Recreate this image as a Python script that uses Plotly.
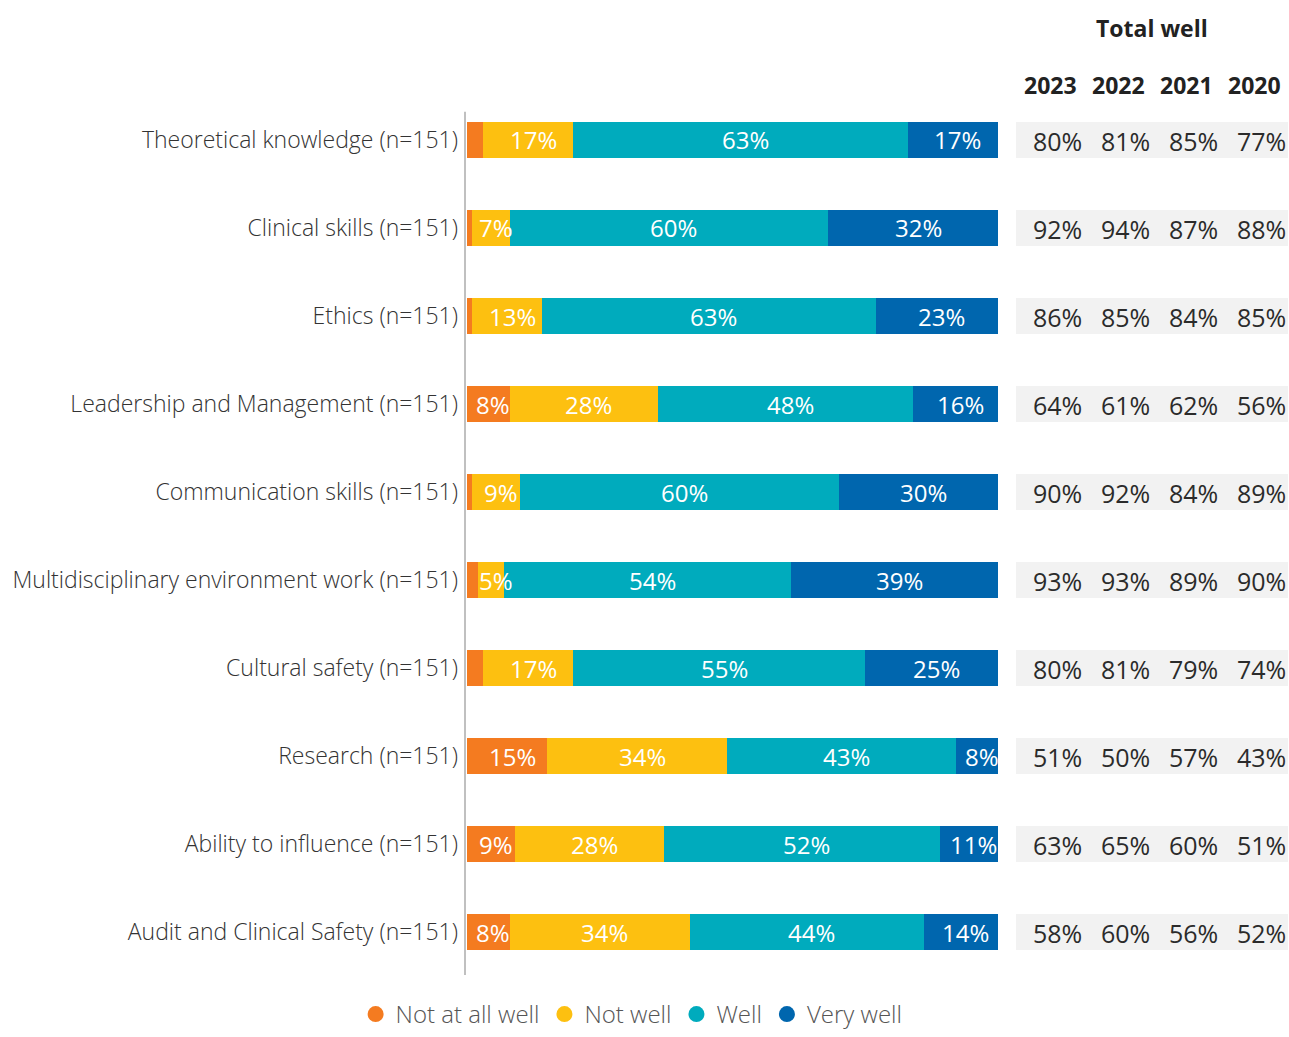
import plotly.graph_objects as go

# ---- data ----
categories = [
    "Theoretical knowledge (n=151)",
    "Clinical skills (n=151)",
    "Ethics (n=151)",
    "Leadership and Management (n=151)",
    "Communication skills (n=151)",
    "Multidisciplinary environment work (n=151)",
    "Cultural safety (n=151)",
    "Research (n=151)",
    "Ability to influence (n=151)",
    "Audit and Clinical Safety (n=151)",
]
not_at_all_well = [3, 1, 1, 8, 1, 2, 3, 15, 9, 8]
not_well = [17, 7, 13, 28, 9, 5, 17, 34, 28, 34]
well = [63, 60, 63, 48, 60, 54, 55, 43, 52, 44]
very_well = [17, 32, 23, 16, 30, 39, 25, 8, 11, 14]

years = ["2023", "2022", "2021", "2020"]
total_well_2023 = [80, 92, 86, 64, 90, 93, 80, 51, 63, 58]
total_well_2022 = [81, 94, 85, 61, 92, 93, 81, 50, 65, 60]
total_well_2021 = [85, 87, 84, 62, 84, 89, 79, 57, 60, 56]
total_well_2020 = [77, 88, 85, 56, 89, 90, 74, 43, 51, 52]

series = [
    ("Not at all well", not_at_all_well, "#F47B20"),
    ("Not well", not_well, "#FDC010"),
    ("Well", well, "#00ABBD"),
    ("Very well", very_well, "#0066AE"),
]
totals = [total_well_2023, total_well_2022, total_well_2021, total_well_2020]

FONT = "Open Sans"
W, H = 1289, 1037
BAR_W = 0.4
MIN_LABEL = 5  # segments smaller than this stay unlabelled

fig = go.Figure()
annotations = []

# stacked bars + centred value labels
cum = [0] * len(categories)
for name, vals, color in series:
    fig.add_trace(go.Bar(
        y=categories, x=vals, orientation="h", name=name,
        marker=dict(color=color, line=dict(width=0)),
        width=BAR_W, showlegend=False, hoverinfo="x+name",
        xaxis="x", yaxis="y",
    ))
    for i, v in enumerate(vals):
        if v >= MIN_LABEL:
            annotations.append(dict(
                x=cum[i] + v / 2, y=categories[i], xref="x", yref="y",
                text=f"{v}%", showarrow=False, xshift=5,
                font=dict(family=FONT, size=24, color="white"),
            ))
        cum[i] += v

# legend entries with round markers
for name, _, color in series:
    fig.add_trace(go.Scatter(
        x=[None], y=[None], mode="markers", name=name,
        marker=dict(color=color, size=22, symbol="circle"),
        showlegend=True, xaxis="x", yaxis="y",
    ))

# "Total well" table: grey row bands and values
fig.add_trace(go.Bar(
    y=categories, x=[len(years)] * len(categories), orientation="h",
    marker=dict(color="#F2F2F2", line=dict(width=0)), width=BAR_W,
    showlegend=False, hoverinfo="skip", xaxis="x2", yaxis="y",
))
for j, (yr, col) in enumerate(zip(years, totals)):
    for i, v in enumerate(col):
        annotations.append(dict(
            x=j + 0.5, y=categories[i], xref="x2", yref="y",
            text=f"{v}%", showarrow=False, xshift=7, yshift=-1,
            font=dict(family=FONT, size=25, color="#2b2b2b"),
        ))
    annotations.append(dict(
        x=j + 0.5, y=1 - 85 / H, xref="x2", yref="paper", yanchor="middle",
        text=f"<b>{yr}</b>", showarrow=False,
        font=dict(family=FONT, size=23, color="#222222"),
    ))
annotations.append(dict(
    x=2.0, y=1 - 28 / H, xref="x2", yref="paper", yanchor="middle",
    text="<b>Total well</b>", showarrow=False,
    font=dict(family=FONT, size=23, color="#222222"),
))

fig.update_layout(
    width=W, height=H,
    margin=dict(l=0, r=0, t=0, b=0, autoexpand=False),
    paper_bgcolor="white", plot_bgcolor="white",
    barmode="stack", bargap=0,
    font=dict(family=FONT, size=23, color="#333333"),
    xaxis=dict(
        domain=[464 / W, 998 / W], range=[-0.6, 100],
        visible=False, fixedrange=True,
    ),
    xaxis2=dict(
        domain=[1016 / W, 1288 / W], range=[0, len(years)],
        visible=False, anchor="y", fixedrange=True,
    ),
    yaxis=dict(
        domain=[1 - 976 / H, 1 - 96 / H],
        categoryorder="array", categoryarray=categories,
        range=[len(categories) - 0.5, -0.5],
        showline=False, showgrid=False, zeroline=False, ticks="",
        automargin=False, ticklabelstandoff=5,
        tickfont=dict(family=FONT, size=23, color="#333333", weight=300),
    ),
    legend=dict(
        orientation="h", traceorder="normal",
        x=0.49, xanchor="center", y=0, yanchor="bottom",
        font=dict(family=FONT, size=24, color="#555555", weight=300),
        tracegroupgap=0,
    ),
    annotations=annotations,
    shapes=[dict(
        type="line", xref="x", yref="y",
        x0=-0.6, x1=-0.6, y0=-0.32, y1=len(categories) - 0.51,
        line=dict(color="#C0C0C0", width=4),
    )],
)

fig.write_html("out.html")
